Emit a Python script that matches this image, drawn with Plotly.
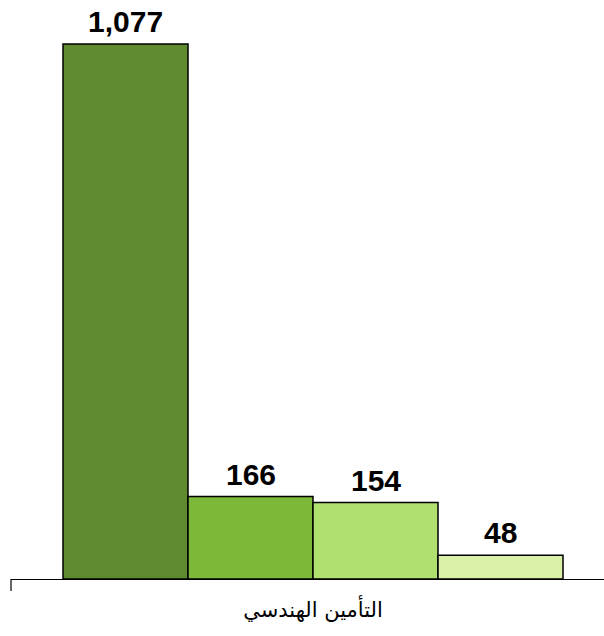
import plotly.graph_objects as go

category = "التأمين الهندسي"
values = [1077, 166, 154, 48]
positions = [0, 1, 2, 3]
colors = ["#5F8A2D", "#7DB83A", "#B0E070", "#DAF0A8"]

fig = go.Figure()
fig.add_trace(go.Bar(
    x=positions, y=values, width=1,
    marker=dict(color=colors, line=dict(color="#000000", width=1.5)),
    hoverinfo="skip", showlegend=False,
))

for xv, v in zip(positions, values):
    fig.add_annotation(
        x=xv, y=v, text=f"<b>{v:,}</b>", showarrow=False,
        yanchor="bottom", yshift=4,
        font=dict(family="Liberation Sans, Arial", size=30, color="#000000"),
    )

fig.add_shape(type="line", xref="paper", yref="paper", x0=0, x1=0, y0=0, y1=-0.021,
              line=dict(color="#000000", width=1.2))

fig.update_layout(
    width=604, height=636,
    margin=dict(l=11, r=0, t=8, b=57),
    paper_bgcolor="white", plot_bgcolor="white",
    xaxis=dict(range=[-0.916, 3.828], showgrid=False, zeroline=False,
               showline=True, linecolor="#000000", linewidth=1.2,
               tickvals=[1.5], ticktext=[category], ticks="",
               ticklabelstandoff=12,
               tickfont=dict(family="DejaVu Sans", size=21, color="#000000")),
    yaxis=dict(range=[0, 1149.5], visible=False),
)

fig.write_html(
    "out.html",
    config={"displayModeBar": False, "staticPlot": True},
    post_script="document.body.style.margin='0';document.body.style.overflow='hidden';",
)
